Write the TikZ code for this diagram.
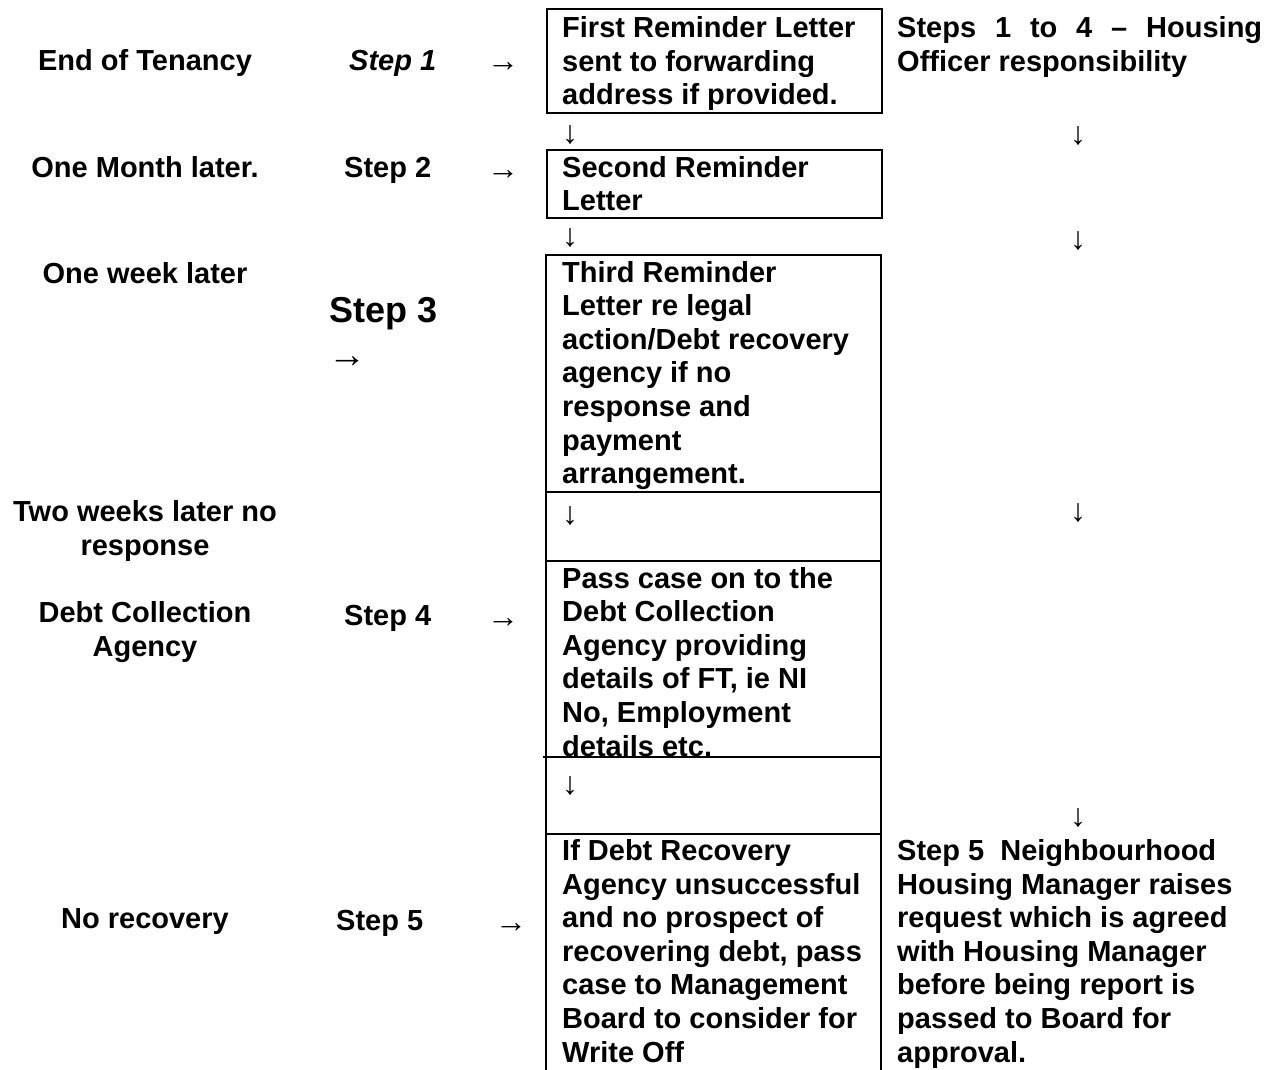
\documentclass[tikz,border=0pt]{standalone}
\usepackage{fontspec}
\setmainfont{Liberation Sans}
\begin{document}
\begin{tikzpicture}[x=1pt,y=-1pt,
  lbl/.style={inner sep=0pt, font=\bfseries\fontsize{29}{33.6}\selectfont},
  ctr/.style={lbl, anchor=base, align=center},
  lft/.style={lbl, anchor=base west, align=left},
  arr/.style={inner sep=0pt, anchor=base west, font=\fontsize{32}{33.6}\selectfont},
  darr/.style={inner sep=0pt, anchor=base, font=\fontsize{32}{33.6}\selectfont},
  frame/.style={line width=1.8pt}]
\useasboundingbox (0,0) rectangle (1274,1070);
\fill[white] (0,0) rectangle (1274,1070);

% left column labels (anchor = baseline of last line)
\node[ctr] (l1) at (145,71) {End of Tenancy};
\node[ctr] (l2) at (145,177) {One Month later.};
\node[ctr] (l3) at (145,283) {One week later};
\node[ctr] (l4) at (145,555) {Two weeks later no\\response};
\node[ctr] (l5) at (145,656) {Debt Collection\\Agency};
\node[ctr] (l6) at (145,928) {No recovery};

% step labels
\node[lft, font=\bfseries\itshape\fontsize{29}{33.6}\selectfont] (s1) at (349,71) {Step 1};
\node[arr] (a1) at (487,72) {→};
\node[lft] (s2) at (344,177) {Step 2};
\node[arr] (a2) at (487,179) {→};
\node[lft, font=\bfseries\fontsize{36}{41}\selectfont] (s3) at (329,322) {Step 3};
\node[arr, font=\fontsize{38}{41}\selectfont] (a3) at (328,367) {→};
\node[lft] (s4) at (344,625) {Step 4};
\node[arr] (a4) at (487,627) {→};
\node[lft] (s5) at (336,930) {Step 5};
\node[arr] (a5) at (495,932) {→};

% boxes
\node[draw, frame, anchor=north west, minimum width=335pt, minimum height=104pt, inner sep=0pt] (b1) at (546,8) {};
\node[draw, frame, anchor=north west, minimum width=335pt, minimum height=68pt, inner sep=0pt] (b2) at (546,149) {};
\draw[frame] (546,1080) -- (546,255) -- (881,255) -- (881,1080);
\draw[frame] (546,492) -- (881,492);
\draw[frame] (546,561) -- (881,561);
\draw[frame] (543,757) -- (881,757);
\draw[frame] (546,834) -- (881,834);

% box texts (anchor = baseline of last line)
\node[lft] (t1) at (562,105) {First Reminder Letter\\sent to forwarding\\address if provided.};
\node[darr] (d1) at (570,143) {↓};
\node[lft] (t2) at (562,210.6) {Second Reminder\\Letter};
\node[darr] (d2) at (570,246) {↓};
\node[lft] (t3) at (562,483.6) {Third Reminder\\Letter re legal\\action/Debt recovery\\agency if no\\response and\\payment\\arrangement.};
\node[darr] (d3) at (570,524) {↓};
\node[lft] (t4) at (562,756) {Pass case on to the\\Debt Collection\\Agency providing\\details of FT, ie NI\\No, Employment\\details etc.};
\node[darr] (d4) at (570,794) {↓};
\node[lft] (t5) at (562,1062) {If Debt Recovery\\Agency unsuccessful\\and no prospect of\\recovering debt, pass\\case to Management\\Board to consider for\\Write Off};

% right column
\node[lft] (r1) at (897,71.5) {\hbox to 365pt{Steps\hfill 1\hfill to\hfill 4\hfill –\hfill Housing}\\Officer responsibility};
\node[darr] (e1) at (1078,144) {↓};
\node[darr] (e2) at (1078,249) {↓};
\node[darr] (e3) at (1078,521) {↓};
\node[darr] (e4) at (1078,826) {↓};
\node[lft] (r2) at (897,1062) {Step 5\ \ Neighbourhood\\Housing Manager raises\\request which is agreed\\with Housing Manager\\before being report is\\passed to Board for\\approval.};
\end{tikzpicture}
\end{document}
